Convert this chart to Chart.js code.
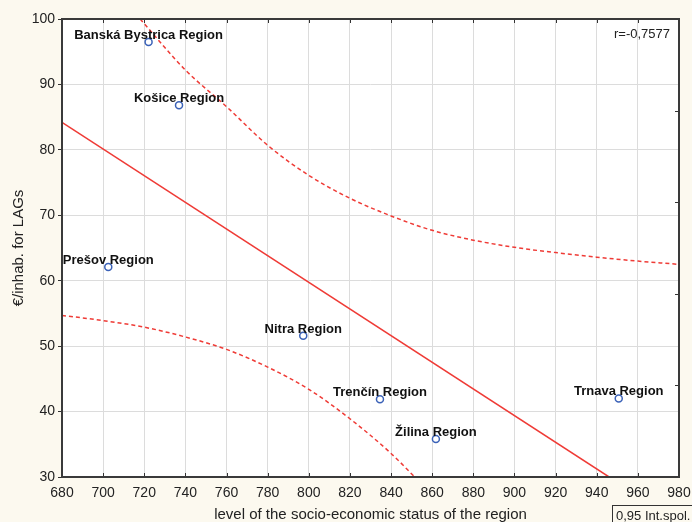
<!DOCTYPE html>
<html>
<head>
<meta charset="utf-8">
<script src="https://cdn.jsdelivr.net/npm/chart.js@4.4.1/dist/chart.umd.min.js"></script>
<style>
    html, body { margin: 0; padding: 0; background: #fcf9ef; }
    #wrap { width: 692px; height: 522px; }
</style>
</head>
<body>
<div id="wrap"><canvas id="scatter-chart" width="692" height="522"></canvas></div>
<script>
// values
const regionNames = [
    "Banská Bystrica Region",
    "Košice Region",
    "Prešov Region",
    "Nitra Region",
    "Trenčín Region",
    "Žilina Region",
    "Trnava Region",
];
const statusLevel = [722.1, 736.9, 702.5, 797.3, 834.6, 861.8, 950.7];
const eurPerInhab = [96.5, 86.8, 62.1, 51.6, 41.9, 35.8, 42.0];

// fitted line, ends where it leaves the plot
const fitX = [680, 946];
const fitY = [84.2, 30];

// 0.95 confidence band
const upperX = [718, 740, 760, 780, 800, 820, 840, 860, 880, 900, 920, 940, 960, 980];
const upperY = [100, 92.2, 86.6, 80.7, 76.1, 72.6, 69.9, 67.7, 66.2, 65.1, 64.3, 63.6, 63.0, 62.5];
const lowerX = [680, 700, 720, 740, 760, 780, 800, 820, 840, 851.5];
const lowerY = [54.7, 53.9, 52.9, 51.4, 49.5, 46.8, 43.4, 38.9, 33.6, 30];

const xTicks = [680, 700, 720, 740, 760, 780, 800, 820, 840, 860, 880, 900, 920, 940, 960, 980];
const yTicks = [30, 40, 50, 60, 70, 80, 90, 100];
const corrText = "r=-0,7577";
const bandText = "0,95 Int.spol.";

const toPoints = (xs, ys) => xs.map((x, i) => ({ x: x, y: ys[i] }));

const FONT = "'Liberation Sans', Arial, sans-serif";
const red = "#ef3b36";

const frame = {
    id: "frame",
    beforeDraw(chart) {
        const { ctx, chartArea: a } = chart;
        ctx.save();
        ctx.fillStyle = "#fcf9ef";
        ctx.fillRect(0, 0, chart.width, chart.height);
        ctx.fillStyle = "#ffffff";
        ctx.fillRect(a.left, a.top, a.right - a.left, a.bottom - a.top);
        ctx.restore();
    },
    afterDraw(chart) {
        const { ctx, chartArea: a, scales } = chart;
        ctx.save();
        // inward ticks on top, bottom and right
        ctx.strokeStyle = "#333";
        ctx.lineWidth = 1;
        ctx.beginPath();
        xTicks.forEach((v) => {
            const px = Math.round(scales.x.getPixelForValue(v)) + 0.5;
            ctx.moveTo(px, a.top);
            ctx.lineTo(px, a.top + 4);
            ctx.moveTo(px, a.bottom);
            ctx.lineTo(px, a.bottom - 4);
        });
        for (let i = 0; i <= 5; i++) {
            const py = Math.round(a.top + (i * (a.bottom - a.top)) / 5) + 0.5;
            ctx.moveTo(a.right, py);
            ctx.lineTo(a.right - 4, py);
        }
        ctx.stroke();
        // frame
        ctx.strokeStyle = "#3a3a3a";
        ctx.lineWidth = 2;
        ctx.strokeRect(a.left, a.top, a.right - a.left, a.bottom - a.top);

        // point labels
        const meta = chart.getDatasetMeta(0);
        ctx.fillStyle = "#111";
        ctx.font = "bold 13px " + FONT;
        ctx.textAlign = "center";
        ctx.textBaseline = "alphabetic";
        meta.data.forEach((pt, i) => {
            ctx.fillText(regionNames[i], pt.x, pt.y - 3);
        });

        // correlation
        ctx.font = "13px " + FONT;
        ctx.textAlign = "right";
        ctx.fillStyle = "#222";
        ctx.fillText(corrText, a.right - 9, a.top + 19);

        // band legend box
        ctx.strokeStyle = "#333";
        ctx.lineWidth = 1;
        ctx.strokeRect(612.5, 505.5, 90, 30);
        ctx.textAlign = "left";
        ctx.font = "13px " + FONT;
        ctx.fillText(bandText, 616, 520);
        ctx.restore();
    },
};

const ctx = document.getElementById("scatter-chart").getContext("2d");

new Chart(ctx, {
    type: "scatter",
    data: {
        datasets: [
            {
                label: "regions",
                data: toPoints(statusLevel, eurPerInhab),
                pointStyle: "circle",
                pointRadius: 3.5,
                pointBorderWidth: 1.5,
                borderColor: "#3b62b8",
                backgroundColor: "rgba(255,255,255,0)",
                order: 0,
            },
            {
                label: "fit",
                type: "line",
                data: toPoints(fitX, fitY),
                borderColor: red,
                borderWidth: 1.5,
                pointRadius: 0,
                fill: false,
                order: 1,
            },
            {
                label: "upper",
                type: "line",
                data: toPoints(upperX, upperY),
                borderColor: red,
                borderWidth: 1.5,
                borderDash: [4, 3],
                pointRadius: 0,
                cubicInterpolationMode: "monotone",
                fill: false,
                order: 1,
            },
            {
                label: "lower",
                type: "line",
                data: toPoints(lowerX, lowerY),
                borderColor: red,
                borderWidth: 1.5,
                borderDash: [4, 3],
                pointRadius: 0,
                cubicInterpolationMode: "monotone",
                fill: false,
                order: 1,
            },
        ],
    },
    options: {
        responsive: false,
        animation: false,
        layout: {
            padding: { left: 0, right: 13, top: 19, bottom: 0 },
        },
        plugins: {
            legend: { display: false },
            tooltip: { enabled: false },
        },
        scales: {
            x: {
                type: "linear",
                min: 680,
                max: 980,
                afterBuildTicks: (scale) => {
                    scale.ticks = xTicks.map((v) => ({ value: v }));
                },
                afterFit: (scale) => {
                    scale.height = 45;
                    scale.paddingLeft = 0;
                    scale.paddingRight = 0;
                },
                grid: {
                    color: "#dcdcdc",
                    lineWidth: 1,
                    tickLength: 0,
                },
                border: { display: false },
                ticks: {
                    color: "#222",
                    font: { family: FONT, size: 14 },
                    padding: 8,
                    maxRotation: 0,
                    autoSkip: false,
                },
                title: {
                    display: true,
                    text: "level of the socio-economic status of the region",
                    color: "#222",
                    font: { family: FONT, size: 15, lineHeight: 1 },
                    padding: { top: 0, bottom: 0 },
                },
            },
            y: {
                type: "linear",
                min: 30,
                max: 100,
                afterBuildTicks: (scale) => {
                    scale.ticks = yTicks.map((v) => ({ value: v }));
                },
                afterFit: (scale) => {
                    scale.width = 62;
                },
                grid: {
                    color: "#dcdcdc",
                    lineWidth: 1,
                    tickLength: 4,
                    tickColor: "#333",
                },
                border: { display: false },
                ticks: {
                    color: "#222",
                    font: { family: FONT, size: 14 },
                    padding: 3,
                },
                title: {
                    display: true,
                    text: "€/inhab. for LAGs",
                    color: "#222",
                    font: { family: FONT, size: 15, lineHeight: 1 },
                    padding: { top: 11, bottom: 0 },
                },
            },
        },
    },
    plugins: [frame],
});
</script>
</body>
</html>
